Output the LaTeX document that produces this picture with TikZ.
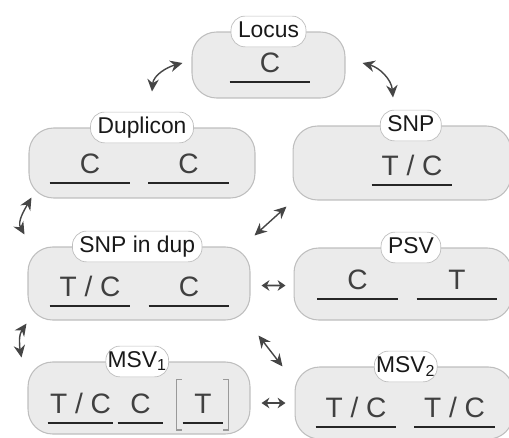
\documentclass[tikz,border=0pt]{standalone}
\usepackage{fontspec}
\setmainfont{Liberation Sans}
\usetikzlibrary{arrows.meta}
\definecolor{boxfill}{HTML}{EBEBEB}
\definecolor{boxline}{HTML}{BEBEBE}
\definecolor{inkgray}{HTML}{454545}
\tikzset{
  varbox/.style={draw=boxline, fill=boxfill, rounded corners=14pt, line width=0.6pt},
  tagbox/.style={draw=boxline, fill=white, rounded corners=8pt, font=\fontsize{13}{15}\selectfont,
    text=black!90, inner xsep=4pt, inner ysep=2.5pt, text height=9.5pt, text depth=3pt},
  allele/.style={anchor=south, font=\fontsize{16}{18}\selectfont, text=black!75, inner sep=0pt,
    minimum width=1.6cm, text height=12pt, text depth=5pt},
  uline/.style={draw=black!85, line width=1.1pt},
  brk/.style={draw=black!40, line width=0.6pt},
  link/.style={draw=inkgray, line width=0.8pt,
    {Stealth[length=7pt,width=6.5pt]}-{Stealth[length=7pt,width=6.5pt]}},
  shortlink/.style={draw=inkgray, line width=0.9pt,
    {Stealth[length=4.5pt,width=6pt]}-{Stealth[length=4.5pt,width=6pt]}}
}
\begin{document}
\begin{tikzpicture}[x=0.02cm,y=0.02cm]
  \useasboundingbox (0,0) rectangle (509,437);
  % boxes
  \node[varbox, minimum width=3.06cm, minimum height=1.32cm] (locus) at (268.5,372) {};
  \node[varbox, minimum width=4.52cm, minimum height=1.4cm] (dup) at (142,274) {};
  \node[varbox, minimum width=4.36cm, minimum height=1.48cm] (snp) at (402,274) {};
  \node[varbox, minimum width=4.44cm, minimum height=1.46cm] (snpdup) at (139,153.5) {};
  \node[varbox, minimum width=4.36cm, minimum height=1.44cm] (psv) at (403,153) {};
  \node[varbox, minimum width=4.44cm, minimum height=1.44cm] (msva) at (139,39) {};
  \node[varbox, minimum width=4.36cm, minimum height=1.44cm] (msvb) at (404,34) {};
  % tags
  \node[tagbox] (locustag) at (locus.north) {Locus};
  \node[tagbox] (duptag) at (dup.north) {Duplicon};
  \node[tagbox] (snptag) at ([xshift=5pt]snp.north) {SNP};
  \node[tagbox] (snpduptag) at ([xshift=-1pt]snpdup.north) {SNP in dup};
  \node[tagbox] (psvtag) at ([xshift=4.5pt]psv.north) {PSV};
  \node[tagbox, inner xsep=1pt] (msvatag) at ([xshift=-1pt]msva.north) {MSV\textsubscript{1}};
  \node[tagbox, inner xsep=1pt] (msvbtag) at ([xshift=1pt]msvb.north) {MSV\textsubscript{2}};
  % alleles
  \node[allele] (lc) at (270,355) {C};
  \node[allele] (d1) at (90,254) {C};
  \node[allele] (d2) at (188.5,254) {C};
  \node[allele] (s1) at (412,252) {T / C};
  \node[allele] (sd1) at (90,131) {T / C};
  \node[allele] (sd2) at (189,131) {C};
  \node[allele] (p1) at (357.5,138) {C};
  \node[allele] (p2) at (457,138) {T};
  \node[allele, minimum width=1.3cm] (ma1) at (80.5,14) {T / C};
  \node[allele, minimum width=0.9cm] (ma2) at (140.5,14) {C};
  \node[allele, minimum width=0.8cm] (ma3) at (203,14) {T};
  \node[allele] (mb1) at (356,10) {T / C};
  \node[allele] (mb2) at (454.5,10) {T / C};
  \foreach \n in {lc, d1, d2, s1, sd1, sd2, p1, p2, ma1, ma2, ma3, mb1, mb2} {
    \draw[uline] (\n.south west) -- (\n.south east);
  }
  % brackets round the optional copy
  \draw[brk] ([shift={(-1,13)}]ma3.north west) -- ++(-5,0) |- ([shift={(-1,-7)}]ma3.south west);
  \draw[brk] ([shift={(0,13)}]ma3.north east) -- ++(5,0) |- ([shift={(0,-7)}]ma3.south east);
  % links
  \draw[link] ([shift={(10,36)}]dup.north) to[out=85,in=195] ([shift={(-9,2)}]locus.west);
  \draw[link] ([shift={(17,2)}]locus.east) to[out=-15,in=95] ([shift={(-9,28)}]snp.north);
  \draw[link] ([shift={(3,1)}]dup.south west) to[out=240,in=120] ([shift={(-3,12)}]snpdup.north west);
  \draw[link] ([shift={(-1,-3)}]snpdup.south west) to[out=235,in=100] ([shift={(-6,4)}]msva.north west);
  \draw[link] ([shift={(4,11)}]snpdup.north east) -- ([shift={(-6,-6)}]snp.south west);
  \draw[shortlink] ([shift={(11,-2)}]snpdup.east) -- ([shift={(-8,-1.5)}]psv.west);
  \draw[link] ([shift={(8,-15)}]snpdup.south east) -- ([shift={(-12,0)}]msvb.north west);
  \draw[shortlink] ([shift={(11,-5)}]msva.east) -- ([shift={(-9,0)}]msvb.west);
\end{tikzpicture}
\end{document}
